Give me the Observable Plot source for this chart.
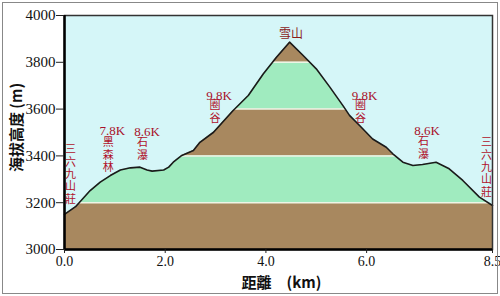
<!DOCTYPE html>
<html>
<head>
<meta charset="utf-8">
<script src="https://cdn.jsdelivr.net/npm/d3@7"></script>
<script src="https://cdn.jsdelivr.net/npm/@observablehq/plot@0.6"></script>
<style>
  html, body { margin: 0; padding: 0; background: #fff; }
  #wrap { position: relative; width: 500px; height: 296px; }
  #border { position: absolute; left: 2px; top: 2px; width: 494px; height: 290px; border: 1px solid #888; pointer-events: none; }
</style>
</head>
<body>
<div id="wrap"><div id="border"></div></div>
<script>
// Trail profile: distance (km) and elevation (m)
const dist = [0, 0.22, 0.51, 0.71, 0.91, 1.11, 1.31, 1.5, 1.64, 1.74, 1.97, 2.07, 2.16, 2.33, 2.56, 2.69, 2.96, 3.35, 3.65, 3.95, 4.21, 4.47, 4.74, 5.0, 5.27, 5.53, 5.66, 5.86, 6.12, 6.39, 6.52, 6.72, 6.92, 7.11, 7.38, 7.64, 7.91, 8.24, 8.5];
const elev = [3150, 3183, 3252, 3288, 3316, 3340, 3349, 3352, 3340, 3335, 3340, 3352, 3373, 3402, 3423, 3458, 3501, 3594, 3658, 3751, 3822, 3886, 3829, 3772, 3694, 3615, 3573, 3530, 3472, 3437, 3409, 3373, 3359, 3363, 3373, 3345, 3295, 3224, 3188];

// Elevation bands
const bandLo = [3000, 3200, 3400, 3600, 3800];
const bandHi = [3200, 3400, 3600, 3800, 4000];
const bandColor = ["#a8885f", "#a0ebbf", "#a8885f", "#a0ebbf", "#a8885f"];

// Ticks
const xTicks = [0, 2, 4, 6, 8.5];
const yTicks = [3000, 3200, 3400, 3600, 3800, 4000];

// Annotations: distance markers
const kLabels = ["7.8K", "8.6K", "9.8K", "9.8K", "8.6K"];
const kX = [0.95, 1.64, 3.07, 5.96, 7.2];
const kY = [3509, 3504, 3658, 3658, 3509];

// Annotations: place names (vertical)
const names = ["三六九山莊", "黑森林", "石瀑", "圈谷", "圈谷", "石瀑", "三六九山莊"];
const nameX = [0.12, 0.87, 1.55, 2.99, 5.88, 7.13, 8.38];
const nameY = [3423, 3453, 3453, 3611, 3611, 3457, 3453];

const peakLabel = ["雪山"];
const peakX = [4.5];
const peakY = [3920];

const profile = dist.map((d, i) => ({d, e: elev[i]}));
const bands = bandLo.map((lo, i) => ({lo, hi: bandHi[i], c: bandColor[i]}));
const kData = kLabels.map((t, i) => ({t, x: kX[i], y: kY[i]}));
const nameData = names.map((t, i) => ({t: t.split("").join("\n"), x: nameX[i], y: nameY[i]}));
const peakData = peakLabel.map((t, i) => ({t, x: peakX[i], y: peakY[i]}));

const serif = "Liberation Serif";
const cjk = "Noto Sans CJK TC";

const chart = Plot.plot({
  width: 500,
  height: 296,
  marginLeft: 64,
  marginRight: 8,
  marginTop: 15,
  marginBottom: 47,
  style: {background: "transparent", fontFamily: serif, fontSize: "15px", color: "#111"},
  x: {domain: [0, 8.5]},
  y: {domain: [3000, 4000]},
  marks: [
    Plot.rect(bands, {x1: 0, x2: 8.5, y1: "lo", y2: "hi", fill: "c"}),
    Plot.ruleY(bandLo.slice(1), {stroke: "#eef5e6", strokeWidth: 1.5}),
    Plot.areaY(profile, {x: "d", y1: "e", y2: 4000, fill: "#d5f6f8"}),
    Plot.line(profile, {x: "d", y: "e", stroke: "#1a1a1a", strokeWidth: 1.6}),
    Plot.frame({stroke: "#333", strokeWidth: 1.5}),
    Plot.ruleX([0], {stroke: "#000", strokeWidth: 2.5}),
    Plot.ruleY([3000], {stroke: "#000", strokeWidth: 2.5}),
    Plot.axisY(yTicks, {tickSize: 8, tickPadding: 1, tickFormat: d => String(d), label: null, fontSize: 15, fontFamily: serif, fill: "#111", stroke: "#222"}),
    Plot.axisX(xTicks, {tickSize: 4, tickPadding: 3, tickFormat: d => d.toFixed(1), label: null, fontSize: 14, fontFamily: serif, fill: "#111", stroke: "#222"}),
    Plot.text(["海拔高度 (m)"], {frameAnchor: "left", textAnchor: "middle", lineAnchor: "middle", dx: -47, dy: -5, rotate: -90, fontWeight: "bold", fontSize: 15, fontFamily: cjk, fill: "#111"}),
    Plot.text(["距離　(km)"], {frameAnchor: "bottom", textAnchor: "middle", lineAnchor: "middle", dx: 3, dy: 34, fontWeight: "bold", fontSize: 15, fontFamily: cjk, fill: "#111"}),
    Plot.text(kData, {x: "x", y: "y", text: "t", fill: "#a8102a", fontSize: 13, fontFamily: serif}),
    Plot.text(nameData, {x: "x", y: "y", text: "t", fill: "#b0102a", fontSize: 11, lineHeight: 1.12, lineAnchor: "top", dy: -6, fontFamily: cjk}),
    Plot.text(peakData, {x: "x", y: "y", text: "t", fill: "#8a1a1a", fontSize: 12, fontFamily: cjk})
  ]
});
document.getElementById("wrap").prepend(chart);
</script>
</body>
</html>
